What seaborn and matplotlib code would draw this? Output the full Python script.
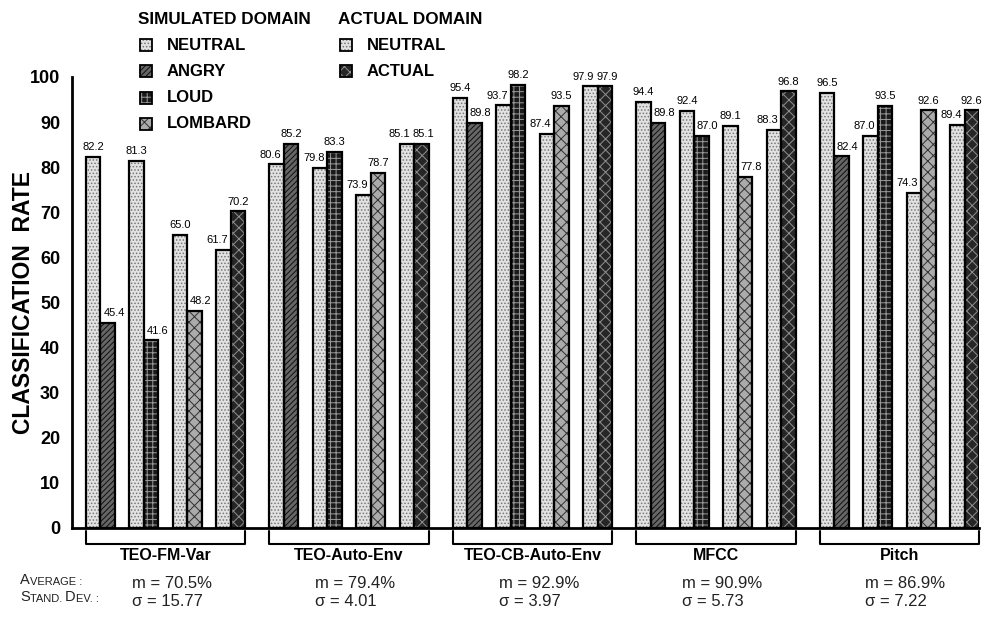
import matplotlib
matplotlib.use('Agg')
import matplotlib.pyplot as plt
from matplotlib.patches import Rectangle
import seaborn as sns
import pandas as pd

# ---- data ----
groups = ['TEO-FM-Var', 'TEO-Auto-Env', 'TEO-CB-Auto-Env', 'MFCC', 'Pitch']
stress_kinds = ['ANGRY', 'LOUD', 'LOMBARD', 'ACTUAL']
neutral_vals = [
    [82.2, 81.3, 65.0, 61.7],
    [80.6, 79.8, 73.9, 85.1],
    [95.4, 93.7, 87.4, 97.9],
    [94.4, 92.4, 89.1, 88.3],
    [96.5, 87.0, 74.3, 89.4],
]
stress_vals = [
    [45.4, 41.6, 48.2, 70.2],
    [85.2, 83.3, 78.7, 85.1],
    [89.8, 98.2, 93.5, 97.9],
    [89.8, 87.0, 77.8, 96.8],
    [82.4, 93.5, 92.6, 92.6],
]
mean_txt = ['70.5', '79.4', '92.9', '90.9', '86.9']
sd_txt = ['15.77', '4.01', '3.97', '5.73', '7.22']
yticks = [0, 10, 20, 30, 40, 50, 60, 70, 80, 90, 100]
sim_kinds = ['NEUTRAL', 'ANGRY', 'LOUD', 'LOMBARD']
act_kinds = ['NEUTRAL', 'ACTUAL']

# ---- styling ----
sns.set_theme(style='white')
plt.rcParams['font.family'] = ['Liberation Sans', 'DejaVu Sans']
plt.rcParams['text.color'] = 'black'
plt.rcParams['hatch.linewidth'] = 0.7

# face colour, hatch, hatch colour
styles = {
    'NEUTRAL': ('#e2e2e2', '.....', '#777777'),
    'ANGRY': ('#666666', '//////', '#0f0f0f'),
    'LOUD': ('#1a1a1a', '+++', '#9a9a9a'),
    'LOMBARD': ('#ababab', 'xxx', '#303030'),
    'ACTUAL': ('#262626', 'xxx', '#8f8f8f'),
}

GROUP_STEP = 4.22
BAR_W = 1 / 3

rows = []
for g, name in enumerate(groups):
    for j, kind in enumerate(stress_kinds):
        pos = g * GROUP_STEP + j
        rows.append(dict(group=name, pos=pos, role='neutral', kind='NEUTRAL',
                         value=neutral_vals[g][j], other=stress_vals[g][j]))
        rows.append(dict(group=name, pos=pos, role='stress', kind=kind,
                         value=stress_vals[g][j], other=neutral_vals[g][j]))
df = pd.DataFrame(rows)
df['cx'] = df['pos'] + df['role'].map({'neutral': -BAR_W / 2, 'stress': BAR_W / 2})

W, H = 987, 618
fig = plt.figure(figsize=(W / 100, H / 100), dpi=100)
ax = fig.add_axes([72 / W, 1 - 528 / H, (979 - 72) / W, (528 - 77) / H])

sns.barplot(data=df, x='pos', y='value', hue='role', hue_order=['neutral', 'stress'],
            native_scale=True, width=2 * BAR_W, errorbar=None, legend=False, ax=ax)

# restyle each bar: hatch drawn in its own colour, black outline on top
for p in list(ax.patches):
    cx = p.get_x() + p.get_width() / 2
    row = df.iloc[(df['cx'] - cx).abs().argmin()]
    face, hatch, hcol = styles[row['kind']]
    p.set_facecolor(face)
    p.set_edgecolor(hcol)
    p.set_hatch(hatch)
    p.set_linewidth(0)
    ax.add_patch(Rectangle((p.get_x(), p.get_y()), p.get_width(), p.get_height(),
                           fill=False, edgecolor='black', lw=1.6, zorder=3))

# value labels, nudged away from a taller (or equal) neighbour
for _, r in df.iterrows():
    neutral = r['role'] == 'neutral'
    if r['other'] > r['value']:
        dx = -4.5 if neutral else 4.5
    elif r['other'] == r['value']:
        dx = -5.5 if neutral else 1.5
    else:
        dx = 0
    ax.annotate(f"{r['value']:.1f}", xy=(r['cx'], r['value']), xytext=(dx, 3.5),
                textcoords='offset points', ha='center', va='bottom',
                fontsize=8, color='black')

ax.set_xlim(-0.655, (len(groups) - 1) * GROUP_STEP + 3 + BAR_W)
ax.set_ylim(0, 100)
ax.set_yticks(yticks)
ax.set_yticklabels([str(t) for t in yticks], fontsize=13, fontweight='bold')
ax.set_xticks([])
ax.set_xlabel('')
ax.set_ylabel('')
ax.tick_params(axis='y', direction='inout', length=15, width=2.6, pad=1, colors='black')
ax.yaxis.get_major_ticks()[0].tick1line.set_visible(False)
for side in ['top', 'right']:
    ax.spines[side].set_visible(False)
for side in ['left', 'bottom']:
    ax.spines[side].set_linewidth(2)
    ax.spines[side].set_color('black')

# brackets, group names and stats under the axis
tr = ax.get_xaxis_transform()
ah = 528 - 77
for g, name in enumerate(groups):
    x0 = g * GROUP_STEP - BAR_W
    x1 = g * GROUP_STEP + 3 + BAR_W
    ax.plot([x0, x0, x1, x1], [-3 / ah, -16 / ah, -16 / ah, -3 / ah], transform=tr,
            color='black', lw=1.5, clip_on=False)
    xc = (x0 + x1) / 2
    ax.text(xc, -28 / ah, name, transform=tr, ha='center', va='center',
            fontsize=11.5, fontweight='bold', color='black')
    xl = xc - 34 / 43.5
    ax.text(xl, -56 / ah, f'm = {mean_txt[g]}%', transform=tr, ha='left', va='center',
            fontsize=12, color='#222222')
    ax.text(xl, -73 / ah, f'σ = {sd_txt[g]}', transform=tr, ha='left', va='center',
            fontsize=12, color='#222222')


def small_caps(x, y, parts):
    # parts: list of (text, big?) drawn one after another
    big, small = 10.5, 8
    t = fig.text(x, y, parts[0][0], fontsize=big if parts[0][1] else small,
                 color='#222222', va='bottom')
    for txt, is_big in parts[1:]:
        t = ax.annotate(txt, xy=(1, 0), xycoords=t, va='bottom', ha='left',
                        fontsize=big if is_big else small, color='#222222',
                        annotation_clip=False)


small_caps(20 / W, 1 - 587 / H, [('A', True), ('VERAGE :', False)])
small_caps(20 / W, 1 - 604 / H, [('S', True), ('TAND. ', False), ('D', True), ('EV. :', False)])

fig.text(24 / W, 1 - 302 / H, 'CLASSIFICATION  RATE', rotation=90, ha='center', va='center',
         fontsize=16.5, fontweight='bold', color='black')


# key at the top, drawn by hand so the rows sit where the reference has them
def key_block(x, title, kinds):
    fig.text(x / W, 1 - 19 / H, title, ha='left', va='center', fontsize=12.3,
             fontweight='bold', color='black')
    for i, kind in enumerate(kinds):
        yc = 45 + i * 26.3
        face, hatch, hcol = styles[kind]
        box = ((x + 2) / W, 1 - (yc + 6) / H)
        fig.add_artist(Rectangle(box, 12 / W, 12 / H, transform=fig.transFigure,
                                 facecolor=face, edgecolor=hcol, hatch=hatch, lw=0))
        fig.add_artist(Rectangle(box, 12 / W, 12 / H, transform=fig.transFigure,
                                 fill=False, edgecolor='black', lw=1.3))
        fig.text((x + 29) / W, 1 - yc / H, kind, ha='left', va='center',
                 fontsize=12, fontweight='bold', color='black')


key_block(138, 'SIMULATED DOMAIN', sim_kinds)
key_block(338, 'ACTUAL DOMAIN', act_kinds)

fig.savefig('out.png', dpi=100, facecolor='white')
